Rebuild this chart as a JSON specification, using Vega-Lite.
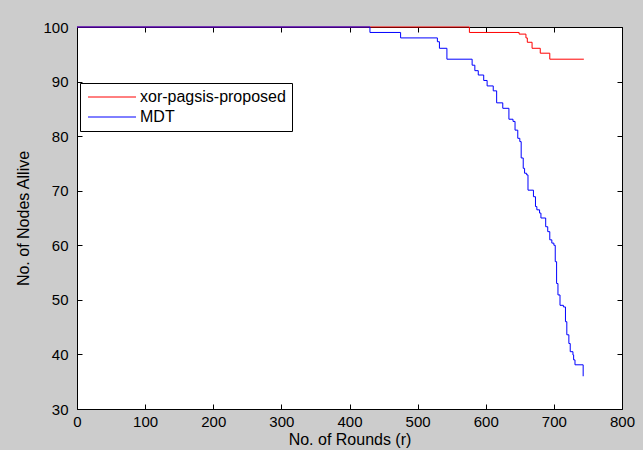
{
  "$schema": "https://vega.github.io/schema/vega-lite/v6.json",
  "width": 545,
  "height": 382,
  "autosize": {"type": "none"},
  "padding": {"left": 77, "top": 27, "right": 21, "bottom": 41},
  "background": "#cccccc",
  "config": {
    "font": "Liberation Sans",
    "view": {"fill": "white", "stroke": null},
    "axis": {
      "grid": false,
      "domainColor": "black",
      "tickColor": "black",
      "labelColor": "black",
      "titleColor": "black",
      "tickSize": -5,
      "labelFontSize": 15,
      "titleFontSize": 16,
      "titleFontWeight": "normal",
      "labelFlush": false,
      "labelOverlap": false,
      "labelBound": false
    }
  },
  "datasets": {
    "curves": [
      {"series": "xor-pagsis-proposed", "round": 0, "alive": 100},
      {"series": "xor-pagsis-proposed", "round": 576, "alive": 99},
      {"series": "xor-pagsis-proposed", "round": 649, "alive": 98.7},
      {"series": "xor-pagsis-proposed", "round": 659, "alive": 98},
      {"series": "xor-pagsis-proposed", "round": 661, "alive": 97.2},
      {"series": "xor-pagsis-proposed", "round": 668, "alive": 96.1},
      {"series": "xor-pagsis-proposed", "round": 680, "alive": 95.2},
      {"series": "xor-pagsis-proposed", "round": 694, "alive": 94.1},
      {"series": "xor-pagsis-proposed", "round": 744, "alive": 94.1},
      {"series": "MDT", "round": 0, "alive": 100},
      {"series": "MDT", "round": 430, "alive": 99},
      {"series": "MDT", "round": 475, "alive": 98},
      {"series": "MDT", "round": 529, "alive": 97.3},
      {"series": "MDT", "round": 532, "alive": 96.1},
      {"series": "MDT", "round": 543, "alive": 94.1},
      {"series": "MDT", "round": 580, "alive": 93},
      {"series": "MDT", "round": 584, "alive": 92},
      {"series": "MDT", "round": 589, "alive": 91.2},
      {"series": "MDT", "round": 597, "alive": 90.2},
      {"series": "MDT", "round": 602, "alive": 89.2},
      {"series": "MDT", "round": 611, "alive": 88.3},
      {"series": "MDT", "round": 616, "alive": 86.1},
      {"series": "MDT", "round": 625, "alive": 85.1},
      {"series": "MDT", "round": 634, "alive": 83.1},
      {"series": "MDT", "round": 640, "alive": 82.7},
      {"series": "MDT", "round": 643, "alive": 81.1},
      {"series": "MDT", "round": 647, "alive": 79.6},
      {"series": "MDT", "round": 650, "alive": 79},
      {"series": "MDT", "round": 652, "alive": 76},
      {"series": "MDT", "round": 655, "alive": 74.1},
      {"series": "MDT", "round": 657, "alive": 73.2},
      {"series": "MDT", "round": 660, "alive": 72.9},
      {"series": "MDT", "round": 662, "alive": 70.1},
      {"series": "MDT", "round": 670, "alive": 68.9},
      {"series": "MDT", "round": 673, "alive": 67.1},
      {"series": "MDT", "round": 675, "alive": 66.5},
      {"series": "MDT", "round": 679, "alive": 65.9},
      {"series": "MDT", "round": 681, "alive": 65},
      {"series": "MDT", "round": 688, "alive": 63.4},
      {"series": "MDT", "round": 691, "alive": 62.5},
      {"series": "MDT", "round": 694, "alive": 61},
      {"series": "MDT", "round": 697, "alive": 60.4},
      {"series": "MDT", "round": 700, "alive": 60},
      {"series": "MDT", "round": 702, "alive": 57},
      {"series": "MDT", "round": 704, "alive": 53},
      {"series": "MDT", "round": 706, "alive": 50.9},
      {"series": "MDT", "round": 709, "alive": 49},
      {"series": "MDT", "round": 714, "alive": 48.7},
      {"series": "MDT", "round": 717, "alive": 46},
      {"series": "MDT", "round": 719, "alive": 43.6},
      {"series": "MDT", "round": 722, "alive": 42},
      {"series": "MDT", "round": 724, "alive": 40.5},
      {"series": "MDT", "round": 728, "alive": 39.9},
      {"series": "MDT", "round": 729, "alive": 39},
      {"series": "MDT", "round": 731, "alive": 38.1},
      {"series": "MDT", "round": 743, "alive": 36}
    ]
  },
  "data": {"name": "curves"},
  "resolve": {"axis": {"x": "independent", "y": "independent"}},
  "layer": [
    {
      "mark": {"type": "line", "interpolate": "step-after", "strokeOpacity": 0},
      "encoding": {
        "x": {
          "field": "round",
          "type": "quantitative",
          "scale": {"domain": [0, 800], "nice": false, "zero": false},
          "axis": {"orient": "top", "values": [0, 100, 200, 300, 400, 500, 600, 700, 800], "labels": false, "title": null}
        },
        "y": {
          "field": "alive",
          "type": "quantitative",
          "scale": {"domain": [30, 100], "nice": false, "zero": false},
          "axis": {"orient": "right", "values": [30, 40, 50, 60, 70, 80, 90, 100], "labels": false, "title": null}
        },
        "detail": {"field": "series"}
      }
    },
    {
      "layer": [
        {
          "transform": [{"filter": "datum.series === 'xor-pagsis-proposed'"}],
          "mark": {"type": "line", "interpolate": "step-after", "strokeWidth": 1}
        },
        {
          "transform": [{"filter": "datum.series === 'MDT'"}],
          "mark": {"type": "line", "interpolate": "step-after", "strokeWidth": 1}
        }
      ],
      "encoding": {
        "x": {
          "field": "round",
          "type": "quantitative",
          "axis": {
            "orient": "bottom",
            "values": [0, 100, 200, 300, 400, 500, 600, 700, 800],
            "title": "No. of Rounds (r)",
            "labelPadding": 10,
            "titlePadding": 2
          }
        },
        "y": {
          "field": "alive",
          "type": "quantitative",
          "axis": {
            "orient": "left",
            "values": [30, 40, 50, 60, 70, 80, 90, 100],
            "title": "No. of Nodes Allive",
            "labelPadding": 14,
            "titlePadding": 11
          }
        },
        "color": {
          "field": "series",
          "type": "nominal",
          "scale": {"domain": ["xor-pagsis-proposed", "MDT"], "range": ["#ff0000", "#0000ff"]},
          "legend": {
            "title": null,
            "orient": "none",
            "legendX": 3,
            "legendY": 56,
            "fillColor": "white",
            "strokeColor": "black",
            "padding": 6,
            "symbolType": "M-8,0L8,0",
            "symbolSize": 36,
            "symbolStrokeWidth": 1,
            "symbolOffset": 18,
            "labelOffset": 20,
            "labelFontSize": 16,
            "labelColor": "black",
            "rowPadding": 4
          }
        }
      }
    }
  ]
}
